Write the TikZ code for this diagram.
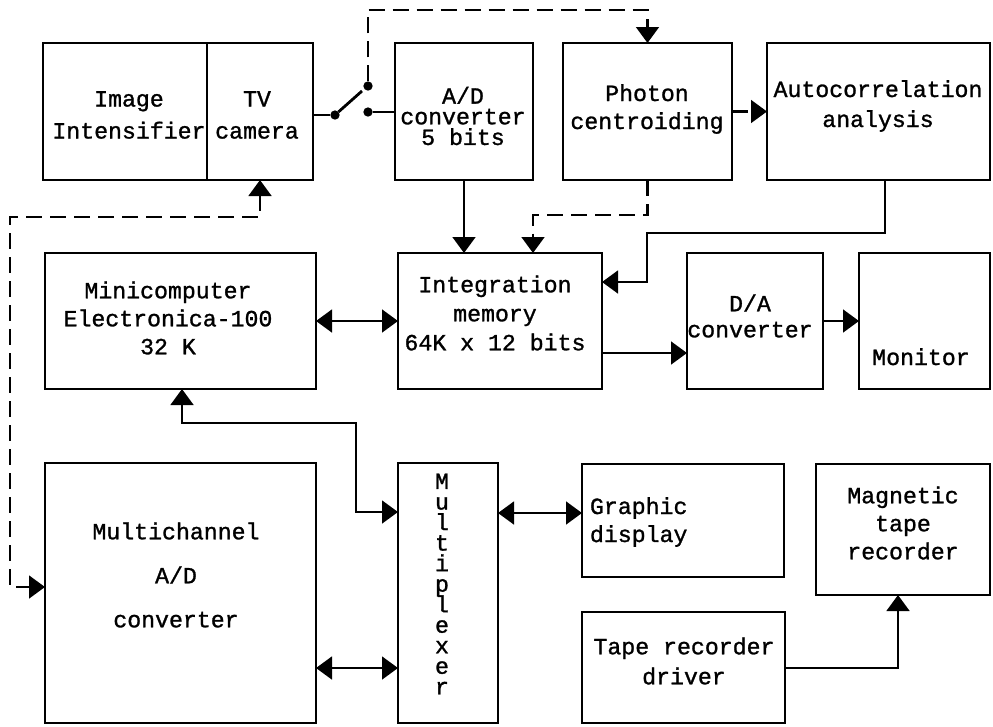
\documentclass[tikz,border=0pt]{standalone}
\usepackage{fontspec}
\setmonofont{Liberation Mono}[RawFeature={embolden=1.2}]
\usetikzlibrary{arrows.meta}
\lineskiplimit=-30pt
\begin{document}
\begin{tikzpicture}[x=0.75pt,y=-0.75pt,
  box/.style={draw, line width=2.1pt, inner sep=0pt, outer sep=0pt},
  wh/.style 2 args={minimum width=#1*0.75pt, minimum height=#2*0.75pt},
  lab/.style={inner sep=0pt, outer sep=0pt, align=center,
    font=\ttfamily\fontsize{17.4pt}{#1pt}\selectfont},
  lab/.default=21,
  conn/.style={line width=2.1pt},
  dsh/.style={dash pattern=on 12pt off 6pt},
  dot/.style={circle, fill, inner sep=0pt, outer sep=0pt, minimum size=7pt},
  >={Triangle[length=12pt,width=17pt]}
]
\lineskiplimit=-30pt
\useasboundingbox (0,0) rectangle (993,726);

% boxes
\node[box,wh={164}{137}] (intens) at (125,111.5) {};
\node[box,wh={106}{137}] (tvcam) at (260,111.5) {};
\node[box,wh={138}{137}] (adc) at (464,111.5) {};
\node[box,wh={169}{137}] (photon) at (647.5,111.5) {};
\node[box,wh={223}{137}] (auto) at (878.5,111.5) {};
\node[box,wh={271}{136}] (mini) at (180.5,321) {};
\node[box,wh={204}{136}] (integ) at (500,321) {};
\node[box,wh={136}{136}] (dac) at (755,321) {};
\node[box,wh={131}{136}] (monitor) at (924.5,321) {};
\node[box,wh={271}{260}] (multi) at (180.5,593) {};
\node[box,wh={100}{260}] (mux) at (448,593) {};
\node[box,wh={202}{113}] (graphic) at (683,520.5) {};
\node[box,wh={174}{131}] (magtape) at (903,529.5) {};
\node[box,wh={203}{111}] (driver) at (683.5,667.5) {};

% labels
\node[lab=24] (tIntens) at (129,115) {Image\\Intensifier};
\node[lab=24] (tTv) at (257,115) {TV\\camera};
\node[lab=15.5] (tAdc) at (463,116) {A/D\\converter\\5 bits};
\node[lab=21] (tPhoton) at (647,109) {Photon\\centroiding};
\node[lab=22.5] (tAuto) at (878,106) {Autocorrelation\\analysis};
\node[lab=21] (tMini) at (168,318) {Minicomputer\\Electronica-100\\32 K};
\node[lab=21.75] (tInteg) at (495,313) {Integration\\memory\\64K x 12 bits};
\node[lab=19.5] (tDac) at (750,316) {D/A\\converter};
\node[lab=21,anchor=base] (tMon) at (921,365) {Monitor};
\node[lab=33] (tMulti) at (176,575) {Multichannel\\A/D\\converter};
\node[lab=15.4] (tMux) at (442,584) {M\\u\\l\\t\\i\\p\\l\\e\\x\\e\\r};
\node[lab=21,align=left,anchor=west] (tGraphic) at (590,522) {Graphic\\display};
\node[lab=21] (tMag) at (903,523) {Magnetic\\tape\\recorder};
\node[lab=22.5] (tDrv) at (684,661) {Tape recorder\\driver};

% switch
\node[dot] (s1) at (335,115) {};
\node[dot] (s2) at (368,86) {};
\node[dot] (s3) at (368,112) {};
\coordinate (arm) at (362,91);
\draw[conn] (tvcam.east |- s1) -- (s1);
\draw[conn] (s1) -- (arm);
\draw[conn] (s3) -- (s3 -| adc.west);

% connectors
\coordinate (d1) at (368,10);
\coordinate (d2) at (647.5,10);
\draw[conn,dsh,->] (s2) -- (d1) -- (d2) -- (photon.north);
\draw[conn,dsh,->] (photon.east) -- (auto.west);
\coordinate (p1) at (647.5,215);
\coordinate (p2) at (533,215);
\draw[conn,dsh,->] (photon.south) -- (p1) -- (p2) -- (p2 |- integ.north);
\draw[conn,->] (adc.south) -- (adc.south |- integ.north);
\coordinate (a1) at (885,233);
\coordinate (a2) at (647,233);
\coordinate (a3) at (647,282);
\draw[conn,->] (a1 |- auto.south) -- (a1) -- (a2) -- (a3) -- (a3 -| integ.east);
\draw[conn,<->] (mini) -- (integ);
\coordinate (i1) at (0,353);
\draw[conn,->] (integ.east |- i1) -- (dac.west |- i1);
\draw[conn,->] (dac) -- (monitor);
\coordinate (m1) at (182,423);
\coordinate (m2) at (356,423);
\coordinate (m3) at (356,512);
\draw[conn,<->] (mini.south -| m1) -- (m1) -- (m2) -- (m3) -- (m3 -| mux.west);
\coordinate (x1) at (0,668);
\draw[conn,<->] (multi.east |- x1) -- (mux.west |- x1);
\coordinate (g1) at (0,513);
\draw[conn,<->] (mux.east |- g1) -- (graphic.west |- g1);
\coordinate (r1) at (898,668);
\draw[conn,->] (driver.east |- r1) -- (r1) -- (r1 |- magtape.south);
\coordinate (t1) at (260,217);
\coordinate (t2) at (10,217);
\coordinate (t3) at (10,587);
\draw[conn,dsh,<->] (tvcam.south) -- (t1) -- (t2) -- (t3) -- (t3 -| multi.west);
\end{tikzpicture}
\end{document}
